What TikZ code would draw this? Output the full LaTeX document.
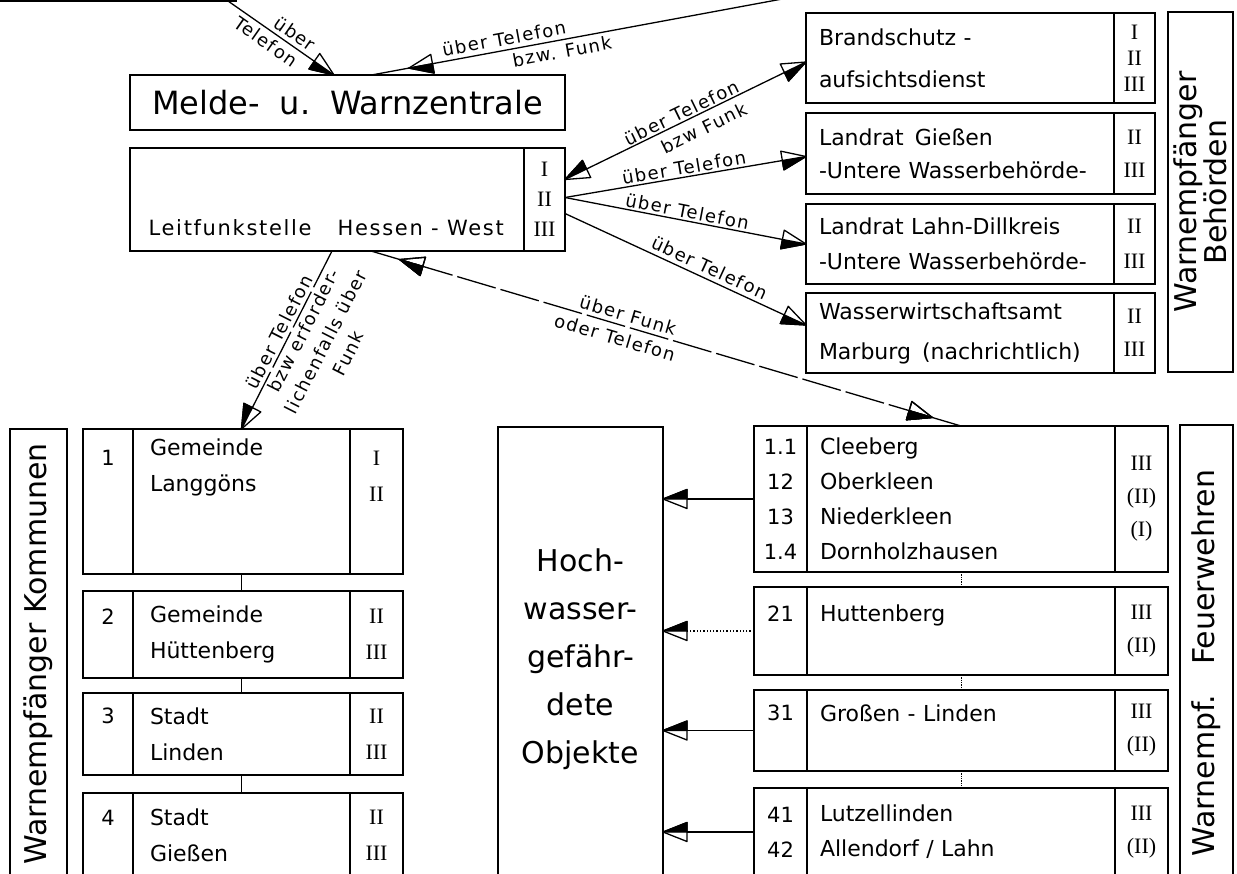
\documentclass[tikz,border=0pt]{standalone}
\usepackage{fontspec}
\setmainfont{DejaVu Sans}
\newfontfamily\romfont{Liberation Serif}
\newfontfamily\lblfont{DejaVu Sans}[LetterSpace=8]
\usetikzlibrary{positioning,arrows.meta,decorations.markings}
\tikzset{every picture/.style={line width=1.3pt}}

% half filled triangle, filled half on the right of the direction
\pgfdeclarearrow{
  name = hwtip,
  parameters = {\the\pgfarrowlength,\the\pgfarrowwidth},
  setup code = {
    \pgfarrowssettipend{0pt}
    \pgfarrowssetbackend{-\pgfarrowlength}
    \pgfarrowssetlineend{-\pgfarrowlength}
    \pgfarrowssetvisualbackend{-\pgfarrowlength}
    \pgfarrowshullpoint{0pt}{0pt}
    \pgfarrowsupperhullpoint{-\pgfarrowlength}{.5\pgfarrowwidth}
    \pgfarrowssavethe\pgfarrowlength
    \pgfarrowssavethe\pgfarrowwidth
  },
  drawing code = {
    \pgfsetdash{}{0pt}
    \pgfsetroundjoin
    \pgfpathmoveto{\pgfqpoint{0pt}{0pt}}
    \pgfpathlineto{\pgfqpoint{-\pgfarrowlength}{-.5\pgfarrowwidth}}
    \pgfpathlineto{\pgfqpoint{-\pgfarrowlength}{0pt}}
    \pgfpathclose
    \pgfusepathqfillstroke
    \pgfpathmoveto{\pgfqpoint{0pt}{0pt}}
    \pgfpathlineto{\pgfqpoint{-\pgfarrowlength}{.5\pgfarrowwidth}}
    \pgfpathlineto{\pgfqpoint{-\pgfarrowlength}{-.5\pgfarrowwidth}}
    \pgfpathclose
    \pgfusepathqstroke
  },
  defaults = {length=24pt, width=19pt}
}

\tikzset{
  hwcell/.style ={rectangle, draw=black, line width=2.4pt, inner sep=0pt, outer sep=0pt},
  hwtxt/.style  ={hwcell, align=left, font=\fontsize{22}{36}\selectfont},
  hwnum/.style  ={hwcell, align=center, font=\fontsize{21}{36}\selectfont},
  hwrom/.style  ={hwcell, align=center, font=\romfont\fontsize{22}{36}\selectfont},
  kmnum/.style  ={hwnum, minimum width=50pt},
  kmtxt/.style  ={hwtxt, minimum width=217pt, text width=183pt, inner xsep=17pt},
  kmrom/.style  ={hwrom, minimum width=53pt},
  fwnum/.style  ={hwnum, minimum width=53pt, font=\fontsize{21}{35}\selectfont},
  fwtxt/.style  ={hwtxt, minimum width=308pt, text width=282pt, inner xsep=13pt,
                  font=\fontsize{22}{35}\selectfont},
  fwrom/.style  ={hwrom, minimum width=53pt, font=\romfont\fontsize{22}{33}\selectfont},
  bhtxt/.style  ={hwtxt, minimum width=308pt, text width=282pt, inner xsep=13pt},
  bhrom/.style  ={hwrom, minimum width=41pt},
  hwside/.style ={hwcell, rotate=90, align=center, font=\fontsize{30}{30}\selectfont},
  hwedge/.style ={line width=1.3pt},
  hwfunk/.style ={dash pattern=on 40pt off 5pt},
  hwlbl/.style  ={font=\lblfont\fontsize{18}{25}\selectfont, inner sep=4pt, sloped, align=center},
  hwmark/.style ={postaction={decorate},
                  decoration={markings, mark=at position #1 with {\arrow{hwtip}}}},
  hwmarkback/.style={postaction={decorate},
                  decoration={markings, mark=at position #1 with {\arrowreversed{hwtip}}}},
}

\begin{document}
\begin{tikzpicture}[x=1pt, y=1pt]
  \path[use as bounding box, fill=white] (0,0) rectangle (1237,-873);

  % Zentrale
  \node[hwcell, anchor=south east, minimum width=280pt, minimum height=60pt] (topbox) at (236,-1) {};
  \coordinate (srcB) at (820,8);
  \node[hwcell, minimum width=435pt, minimum height=55pt, font=\fontsize{32}{32}\selectfont]
    (melde) at (347.5,-102.5) {Melde-\hspace{20pt}u.\hspace{20pt}Warnzentrale};
  \node[hwcell, anchor=north west, minimum width=394pt, minimum height=103pt] (leitT) at (130,-148) {};
  \node[hwrom, minimum width=41pt, minimum height=103pt, right=0pt of leitT,
        font=\romfont\fontsize{22}{30}\selectfont] (leitR) {I\\II\\III};
  \node[anchor=south west, inner sep=0pt, font=\lblfont\fontsize{21}{21}\selectfont]
    (leitlbl) at ([xshift=18, yshift=15]leitT.south west) {Leitfunkstelle\hspace{26pt}Hessen - West};

  % Behoerden
  \node[bhtxt, anchor=north west, minimum height=90pt, font=\fontsize{22}{42}\selectfont]
    (bsT) at (806,-13) {Brandschutz -\\aufsichtsdienst};
  \node[bhrom, minimum height=90pt, right=0pt of bsT, font=\romfont\fontsize{22}{26}\selectfont]
    (bsR) {I\\II\\III};
  \node[bhtxt, anchor=north west, minimum height=81pt, font=\fontsize{22}{33}\selectfont]
    (lgT) at (806,-113) {Landrat\enspace Gießen\\-Untere Wasserbehörde-};
  \node[bhrom, minimum height=81pt, right=0pt of lgT, font=\romfont\fontsize{22}{33}\selectfont]
    (lgR) {II\\III};
  \node[bhtxt, anchor=north west, minimum height=80pt, font=\fontsize{22}{35}\selectfont]
    (ldT) at (806,-204) {Landrat Lahn-Dillkreis\\-Untere Wasserbehörde-};
  \node[bhrom, minimum height=80pt, right=0pt of ldT, font=\romfont\fontsize{22}{35}\selectfont]
    (ldR) {II\\III};
  \node[bhtxt, anchor=north west, minimum height=80pt, font=\fontsize{22}{40}\selectfont]
    (wwT) at (806,-293) {Wasserwirtschaftsamt\\Marburg\enspace(nachrichtlich)};
  \node[bhrom, minimum height=80pt, right=0pt of wwT, font=\romfont\fontsize{22}{33}\selectfont]
    (wwR) {II\\III};
  \node[hwside, minimum width=360pt, minimum height=65pt] (bhside) at (1200.5,-192) {Warnempfänger\\Behörden};

  % Kommunen
  \node[hwside, minimum width=450pt, minimum height=57pt] (kmside) at (38.5,-654) {Warnempfänger Kommunen};
  \node[kmnum, anchor=north west, minimum height=145pt] (k1n) at (83,-429) {1\\[51pt]~};
  \node[kmtxt, minimum height=145pt, right=0pt of k1n] (k1t) {Gemeinde\\Langgöns\\~\\~};
  \node[kmrom, minimum height=145pt, right=0pt of k1t] (k1r) {I\\II\\[15pt]~};
  \node[kmnum, anchor=north west, minimum height=87pt] (k2n) at (83,-591) {2\\~};
  \node[kmtxt, minimum height=87pt, right=0pt of k2n] (k2t) {Gemeinde\\Hüttenberg};
  \node[kmrom, minimum height=87pt, right=0pt of k2t] (k2r) {II\\III};
  \node[kmnum, anchor=north west, minimum height=82pt] (k3n) at (83,-693) {3\\~};
  \node[kmtxt, minimum height=82pt, right=0pt of k3n] (k3t) {Stadt\\Linden};
  \node[kmrom, minimum height=82pt, right=0pt of k3t] (k3r) {II\\III};
  \node[kmnum, anchor=north west, minimum height=85pt] (k4n) at (83,-793) {4\\~};
  \node[kmtxt, minimum height=85pt, right=0pt of k4n] (k4t) {Stadt\\Gießen};
  \node[kmrom, minimum height=85pt, right=0pt of k4t] (k4r) {II\\III};

  % Objekte und Feuerwehren
  \node[hwcell, anchor=north west, minimum width=165pt, minimum height=464pt, align=center,
        font=\fontsize{30}{48}\selectfont] (hw) at (498,-427) {Hoch-\\wasser-\\gefähr-\\dete\\Objekte};
  \node[fwnum, anchor=north west, minimum height=146pt] (f1n) at (754,-426) {1.1\\12\\13\\1.4};
  \node[fwtxt, minimum height=146pt, right=0pt of f1n] (f1t) {Cleeberg\\Oberkleen\\Niederkleen\\Dornholzhausen};
  \node[fwrom, minimum height=146pt, right=0pt of f1t] (f1r) {III\\(II)\\(I)};
  \node[fwnum, anchor=north west, minimum height=88pt] (f2n) at (754,-587) {21\\~};
  \node[fwtxt, minimum height=88pt, right=0pt of f2n] (f2t) {Huttenberg\\~};
  \node[fwrom, minimum height=88pt, right=0pt of f2t] (f2r) {III\\(II)};
  \node[fwnum, anchor=north west, minimum height=81pt] (f3n) at (754,-690) {31\\~};
  \node[fwtxt, minimum height=81pt, right=0pt of f3n] (f3t) {Großen - Linden\\~};
  \node[fwrom, minimum height=81pt, right=0pt of f3t] (f3r) {III\\(II)};
  \node[fwnum, anchor=north west, minimum height=88pt] (f4n) at (754,-788) {41\\42};
  \node[fwtxt, minimum height=88pt, right=0pt of f4n] (f4t) {Lutzellinden\\Allendorf / Lahn};
  \node[fwrom, minimum height=88pt, right=0pt of f4t] (f4r) {III\\(II)};
  \node[hwside, minimum width=476pt, minimum height=53pt] (fwside) at (1206.5,-663) {Warnempf.\quad Feuerwehren};

  % Verbindungen
  \draw[hwedge, -{hwtip}] ([xshift=-8]topbox.south east) -- ([xshift=-13.5]melde.north)
    node[hwlbl, pos=0.57, above] {über} node[hwlbl, pos=0.42, below] {Telefon};
  \draw[hwedge, hwmarkback=38pt] ([xshift=24]melde.north) -- (srcB)
    node[hwlbl, pos=0.3, above] {über Telefon} node[hwlbl, pos=0.42, below] {bzw. Funk};
  \draw[hwedge, {hwtip}-{hwtip}] ([yshift=20]leitR.east) -- ([yshift=-4]bsT.west)
    node[hwlbl, pos=0.5, above, inner sep=1.5pt] {über Telefon}
    node[hwlbl, pos=0.55, below, inner sep=7pt] {bzw Funk};
  \draw[hwedge, -{hwtip}] ([yshift=2]leitR.east) -- ([yshift=-3]lgT.west)
    node[hwlbl, pos=0.5, above, inner sep=2pt] {über Telefon};
  \draw[hwedge, -{hwtip}] ([yshift=2]leitR.east) -- (ldT.west)
    node[hwlbl, pos=0.5, above, inner sep=2pt] {über Telefon};
  \draw[hwedge, -{hwtip}] ([yshift=-14]leitR.east) -- ([yshift=8]wwT.west)
    node[hwlbl, pos=0.58, above] {über Telefon};
  \draw[hwedge, hwfunk, hwmarkback=30pt, hwmark=-30pt] ([xshift=44]leitT.south) -- (f1t.north)
    node[hwlbl, pos=0.43, above] {über Funk} node[hwlbl, pos=0.42, below, inner sep=6pt] {oder Telefon};
  \draw[hwedge, hwfunk, {hwtip}-] (k1t.north) -- ([xshift=5]leitT.south)
    node[hwlbl, pos=0.52, above, inner sep=3pt] {über Telefon}
    node[hwlbl, pos=0.58, below, inner sep=3pt] {bzw erforder-\\lichenfalls über\\Funk};

  \draw[hwedge] (k1t.south) -- (k2t.north);
  \draw[hwedge] (k2t.south) -- (k3t.north);
  \draw[hwedge] (k3t.south) -- (k4t.north);
  \draw[hwedge, densely dotted, line width=0.8pt] (f1t.south) -- (f2t.north);
  \draw[hwedge, densely dotted, line width=0.8pt] (f2t.south) -- (f3t.north);
  \draw[hwedge, densely dotted, line width=0.8pt] (f3t.south) -- (f4t.north);

  \draw[hwedge, -{hwtip}] (f1n.west) -- (f1n.west -| hw.east);
  \draw[hwedge, dotted, -{hwtip}] (f2n.west) -- (f2n.west -| hw.east);
  \draw[hwedge, -{hwtip}] (f3n.west) -- (f3n.west -| hw.east);
  \draw[hwedge, -{hwtip}] (f4n.west) -- (f4n.west -| hw.east);
\end{tikzpicture}
\end{document}
